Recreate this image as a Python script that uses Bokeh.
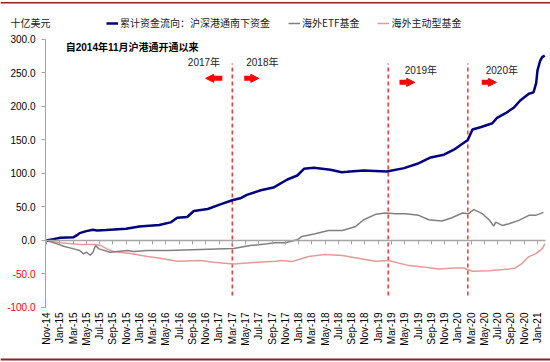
import math
from bokeh.plotting import figure
from bokeh.models import (Range1d, FixedTicker, LinearAxis, Label, Arrow, NormalHead,
                          Legend, LegendItem, Span)
from bokeh.embed import file_html
from bokeh.resources import INLINE

# ---------------- data (x = months since Nov-2014) ----------------
south_m = [0, 1, 2.1, 4.1, 4.6, 5.0, 6.0, 7.0, 7.6, 9, 12, 14, 15.5, 17, 18.7, 19.7, 21.2, 22.2,
           24.3, 26.2, 28, 29.2, 30.2, 32.3, 34.2, 36.3, 37.8, 38.8, 40.3, 42.8, 44.5, 45.3, 47.8,
           51.3, 53.9, 55.9, 57.9, 59.9, 61.4, 62.9, 63.5, 64.2, 65.4, 67.2, 67.9, 69.2, 70.4,
           71.4, 72.7, 73.4, 73.8, 74.0, 74.4, 74.7, 75.1]
south_v = [0, 2, 4, 5, 8, 11, 14, 16, 15, 15.5, 17.5, 21, 22, 23, 27, 34, 35, 44,
           47, 54, 60, 63, 68, 75, 79, 91, 97, 107, 108.5, 105.5, 102, 102.5, 104.5,
           103, 108, 114.5, 124, 128, 135.5, 146, 150, 165.6, 169, 175, 183, 190, 198,
           209, 219, 221, 235, 254, 268, 273.6, 276]

etf_m = [0, 1.6, 2.6, 4.1, 5.0, 5.6, 6.0, 6.6, 7.0, 7.4, 7.9, 9.6, 12.2, 13.1, 15.2, 18.2, 23.2,
         28.2, 30.7, 33.3, 34.5, 36, 37.8, 38.5, 40.5, 42.5, 44.6, 46.6, 47.8, 49.6, 51.1, 52.6,
         54.1, 56.1, 57.6, 59.6, 61.1, 62.7, 63.6, 64.4, 65.7, 66.7, 67.4, 67.7, 68.7, 69.7, 71.2,
         72.7, 73.7, 74.9]
etf_v = [0, -5, -8.5, -12.5, -15, -20, -17.5, -22, -17.5, -7.5, -12.5, -17.5, -15, -16.5, -15, -15, -13.5,
         -12, -7.5, -5, -3.5, -3.5, 1, 6, 10, 15, 15, 21, 31, 39, 41, 40,
         40, 37.5, 31, 29, 34, 41, 40, 46, 40, 31, 21.5, 27.5, 22.5, 25, 30,
         37.5, 37.5, 42]

active_m = [0, 2.1, 5.1, 7.4, 8.3, 9.1, 10.1, 12.7, 15.2, 16.9, 18.2, 19.7, 23.2, 25.2, 28.2, 31.2,
            34.5, 35.5, 37, 38.3, 39.5, 42, 44.6, 47.6, 49.6, 51.6, 54.6, 57.1, 59.1, 61.6, 62.9,
            63.4, 64.2, 66.7, 69.7, 70.7, 71.6, 72.7, 73.7, 74.7, 75.1]
active_v = [0, -3.5, -6, -6, -8, -12.5, -16.5, -19.5, -24, -26, -28.5, -31, -30, -32.5, -35, -33,
            -31, -30, -31.5, -27.5, -24, -21, -22.5, -27.5, -31, -30, -37.5, -40, -42.5, -41, -41,
            -43, -46, -45, -42.5, -41, -35, -24, -20, -12.5, -5]

series_names = ["累计资金流向：沪深港通南下资金", "海外ETF基金", "海外主动型基金"]
unit_text = "十亿美元"
title_text = "自2014年11月沪港通开通以来"

x_tick_labels = ["Nov-14", "Jan-15", "Mar-15", "May-15", "Jul-15", "Sep-15", "Nov-15",
                 "Jan-16", "Mar-16", "May-16", "Jul-16", "Sep-16", "Nov-16",
                 "Jan-17", "Mar-17", "May-17", "Jul-17", "Sep-17", "Nov-17",
                 "Jan-18", "Mar-18", "May-18", "Jul-18", "Sep-18", "Nov-18",
                 "Jan-19", "Mar-19", "May-19", "Jul-19", "Sep-19", "Nov-19",
                 "Jan-20", "Mar-20", "May-20", "Jul-20", "Sep-20", "Nov-20", "Jan-21"]
x_tick_pos = [2 * i for i in range(len(x_tick_labels))]

y_pos_ticks = [0, 50, 100, 150, 200, 250, 300]
y_neg_ticks = [-100, -50]

event_m = [28, 51.5, 63.5]           # dashed separators
year_text = ["2017年", "2018年", "2019年", "2020年"]
year_x = [21.3, 30.1, 54.0, 66.2]
year_y = [266, 266, 254, 254]
arrow_x0 = [26.5, 29.8, 53.2, 65.6]
arrow_x1 = [24.0, 32.0, 55.5, 67.8]
arrow_y = [242, 242, 236, 236]

NUM_FONT = "Liberation Sans, Noto Sans CJK SC"
CJK_FONT = "Noto Sans CJK SC"
AXIS_GRAY = "#a6a6a6"
X0, X1 = -0.15, 75.2          # plotted span of the x axis
Y0, Y1 = -100, 300            # plotted span of the y axis

p = figure(width=550, height=362, output_backend="svg", toolbar_location=None,
           x_range=Range1d(-6.93, 75.96), y_range=Range1d(-182.1, 358.2),
           min_border=0, min_border_left=0, min_border_right=0,
           min_border_top=0, min_border_bottom=0)
p.outline_line_color = None
p.grid.visible = False
p.background_fill_color = "white"
p.border_fill_color = "white"

# main y axis (black, non-negative labels, ticks everywhere)
ya = p.yaxis[0]
ya.fixed_location = X0
ya.bounds = (Y0, Y1)
ya.ticker = FixedTicker(ticks=y_neg_ticks + y_pos_ticks)
ya.major_label_overrides = {t: (f"{t:.1f}" if t >= 0 else "") for t in y_neg_ticks + y_pos_ticks}
ya.axis_line_color = AXIS_GRAY
ya.major_tick_line_color = AXIS_GRAY
ya.major_tick_in = 0
ya.major_tick_out = 4
ya.minor_tick_line_color = None
ya.major_label_text_font_size = "10px"
ya.major_label_text_font = NUM_FONT
ya.major_label_text_color = "black"
ya.major_label_standoff = 6

# red labels for the negative values, same place
neg_axis = LinearAxis(fixed_location=X0, bounds=(Y0, Y1), ticker=FixedTicker(ticks=y_neg_ticks),
                      major_label_overrides={t: f"{t:.1f}" for t in y_neg_ticks},
                      axis_line_color=AXIS_GRAY, major_tick_line_color=AXIS_GRAY,
                      minor_tick_line_color=None, major_tick_in=0, major_tick_out=4,
                      major_label_standoff=6, major_label_text_font_size="10px",
                      major_label_text_font=NUM_FONT, major_label_text_color="#ff0000")
p.add_layout(neg_axis, "left")

# bottom date labels, hung below the -100 level
xa = p.xaxis[0]
xa.fixed_location = Y0
xa.bounds = (X0, X1)
xa.ticker = FixedTicker(ticks=x_tick_pos)
xa.major_label_overrides = {pos: lab for pos, lab in zip(x_tick_pos, x_tick_labels)}
xa.axis_line_color = None
xa.major_tick_line_color = None
xa.minor_tick_line_color = None
xa.major_tick_in = 0
xa.major_tick_out = 0
xa.major_label_orientation = math.pi / 2
xa.major_label_standoff = 5
xa.major_label_text_font_size = "10px"
xa.major_label_text_font = NUM_FONT
xa.major_label_text_color = "black"

# category line at zero with its tick marks
zero_axis = LinearAxis(fixed_location=0, bounds=(X0, X1), ticker=FixedTicker(ticks=x_tick_pos),
                       major_label_overrides={pos: "" for pos in x_tick_pos},
                       axis_line_color=AXIS_GRAY, axis_line_width=1.5,
                       major_tick_line_color=AXIS_GRAY, major_tick_in=0, major_tick_out=4,
                       minor_tick_line_color=None, major_label_text_font_size="1px")
p.add_layout(zero_axis, "below")

# page rules top and bottom
p.add_layout(Span(location=355.0, dimension="width", line_color="#8b2323", line_width=1.5))
p.add_layout(Span(location=-177.5, dimension="width", line_color="#8b2323", line_width=2))

# dashed separators
p.segment(x0=event_m, x1=event_m, y0=[-82] * 3, y1=[264] * 3,
          line_color="#ff3333", line_dash="4 3", line_width=1.5)

# series
r_active = p.line(active_m, active_v, line_color="#e39a9a", line_width=1.5)
r_etf = p.line(etf_m, etf_v, line_color="#808080", line_width=1.5)
r_south = p.line(south_m, south_v, line_color="#000080", line_width=2.5)

legend = Legend(items=[LegendItem(label=series_names[0], renderers=[r_south]),
                       LegendItem(label=series_names[1], renderers=[r_etf]),
                       LegendItem(label=series_names[2], renderers=[r_active])],
                orientation="horizontal", location=(106, 332), glyph_width=12, glyph_height=10,
                label_standoff=2, spacing=18, padding=0, margin=0, label_height=12,
                background_fill_alpha=0, border_line_color=None,
                label_text_font_size="10px", label_text_font=CJK_FONT, label_text_color="#222222")
p.add_layout(legend, "center")

# texts
p.add_layout(Label(x=-5.43, y=325, text=unit_text, text_font=CJK_FONT, text_font_size="10px",
                   text_baseline="middle", text_align="left", text_color="#222222"))
p.add_layout(Label(x=2.9, y=288, text=title_text, text_font=NUM_FONT,
                   text_font_size="10px", text_font_style="bold", text_baseline="middle",
                   text_align="left", text_color="black"))
for t, xx, yy in zip(year_text, year_x, year_y):
    p.add_layout(Label(x=xx, y=yy, text=t, text_font=NUM_FONT, text_font_size="10px",
                       text_baseline="middle", text_align="left", text_color="#222222"))
for a0, a1, ay in zip(arrow_x0, arrow_x1, arrow_y):
    p.add_layout(Arrow(x_start=a0, y_start=ay, x_end=a1, y_end=ay, line_color="#ff0000",
                       line_width=5, end=NormalHead(size=8, fill_color="#ff0000",
                                                   line_color="#ff0000")))

open("out.html", "w").write(file_html(p, INLINE))
